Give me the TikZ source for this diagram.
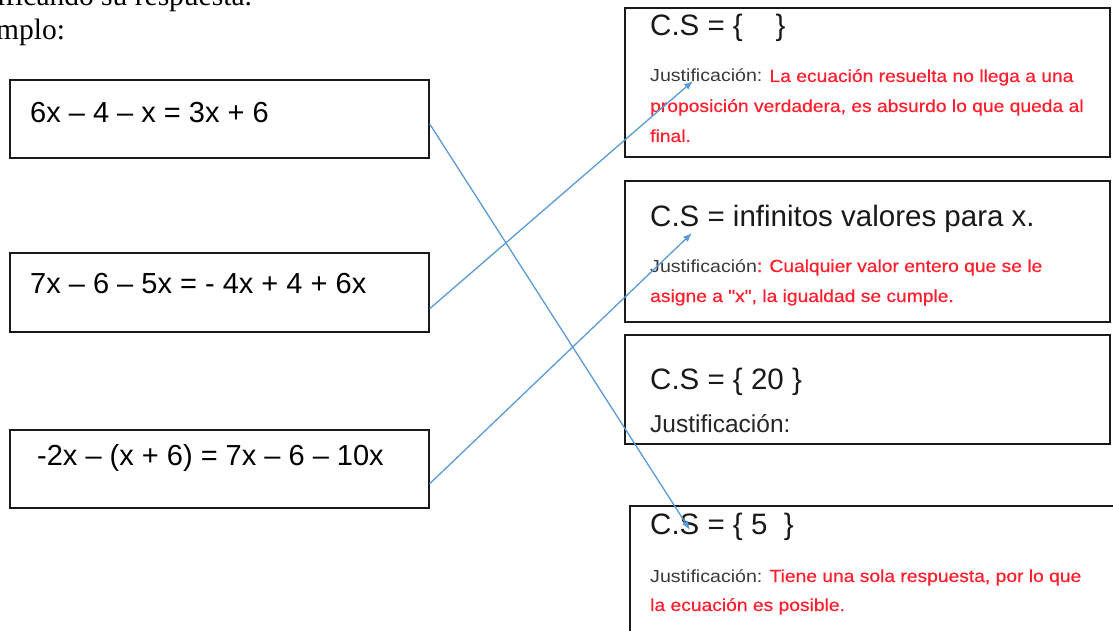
\documentclass[tikz,border=0pt]{standalone}
\usepackage{fontspec}
\setmainfont{Liberation Sans}
\newfontfamily\seriffont{Liberation Serif}
\newfontfamily\jfont[FakeStretch=1.12]{Liberation Sans}
\newfontfamily\jredfont[FakeStretch=1.1,FakeBold=0.5]{Liberation Sans}
\usetikzlibrary{arrows.meta}
\definecolor{arrowblue}{HTML}{5B9BD5}
\definecolor{jred}{HTML}{FF1F2E}
\definecolor{jgray}{HTML}{3A3A3A}
\definecolor{boxline}{HTML}{1A1A1A}
\newcommand\jlab[1]{{\jfont\color{jgray}#1}}
\begin{document}
\begin{tikzpicture}[x=1pt,y=-1pt,
  box/.style={draw=boxline,line width=1.6pt,rectangle,inner sep=0pt,anchor=north west},
  eqtext/.style={anchor=base west,inner sep=0pt,text=black,font=\fontsize{29}{35}\selectfont},
  cstext/.style={anchor=base west,inner sep=0pt,text=black!90,font=\fontsize{29.5}{35}\selectfont},
  jtext/.style={anchor=base west,inner sep=0pt,text=jred,font=\jredfont\fontsize{17.5}{21}\selectfont},
  toptext/.style={anchor=base west,inner sep=0pt,text=black,font=\seriffont\fontsize{29.5}{34}\selectfont},
  link/.style={draw=arrowblue,line width=1.3pt,-{Latex[length=9pt,width=7pt]}}]
\useasboundingbox (0,0) rectangle (1113,631);
\clip (0,0) rectangle (1113,631);
\fill[white] (0,0) rectangle (1113,631);

% top text (cut off at the page edge)
\node[toptext] (t1) at (-3,6) {ificando su respuesta.};
\node[toptext] (t2) at (-4,40) {mplo:};

% left boxes
\node[box,minimum width=419pt,minimum height=78pt] (eqA) at (9,79) {};
\node[box,minimum width=419pt,minimum height=79pt] (eqB) at (9,252) {};
\node[box,minimum width=419pt,minimum height=78pt] (eqC) at (9,429) {};
\node[eqtext] (tA) at (30,123) {6x – 4 – x = 3x + 6};
\node[eqtext] (tB) at (30,293) {7x – 6 – 5x = - 4x + 4 + 6x};
\node[eqtext] (tC) at (37,465) {-2x – (x + 6) = 7x – 6 – 10x};

% right boxes
\node[box,minimum width=485pt,minimum height=149pt] (r1) at (624,7) {};
\node[box,minimum width=485pt,minimum height=141pt] (r2) at (624,180) {};
\node[box,minimum width=485pt,minimum height=109pt] (r3) at (624,334) {};
\node[box,minimum width=500pt,minimum height=140pt] (r4) at (629,505) {};

\node[cstext] (c1) at (650,36) {C.S = \{\ \ \ \ \}};
\node[jtext] (j1a) at (650,82) {\jlab{Justificación:} La ecuación resuelta no llega a una};
\node[jtext] (j1b) at (650,112) {proposición verdadera, es absurdo lo que queda al};
\node[jtext] (j1c) at (650,142) {final.};

\node[cstext] (c2) at (650,226) {C.S = infinitos valores para x.};
\node[jtext] (j2a) at (650,272) {\jlab{Justificación}: Cualquier valor entero que se le};
\node[jtext] (j2b) at (650,302) {asigne a \symbol{34}x\symbol{34}, la igualdad se cumple.};

\node[cstext] (c3) at (650,389) {C.S = \{ 20 \}};
\node[anchor=base west,inner sep=0pt,text=black!85,font=\fontsize{24.5}{28}\selectfont] (j3) at (650,432) {Justificación:};

\node[cstext] (c4) at (650,534) {C.S = \{ 5\ \ \}};
\node[jtext] (j4a) at (650,582) {\jlab{Justificación:} Tiene una sola respuesta, por lo que};
\node[jtext] (j4b) at (650,611) {la ecuación es posible.};

% connectors
\coordinate (e1) at (690,530);
\coordinate (e2) at (693,81);
\coordinate (e3) at (692,233);
\draw[link] ([yshift=-5pt]eqA.east) -- (e1);
\draw[link] ([yshift=-16.5pt]eqB.east) -- (e2);
\draw[link] ([yshift=-15pt]eqC.east) -- (e3);
\end{tikzpicture}
\end{document}
